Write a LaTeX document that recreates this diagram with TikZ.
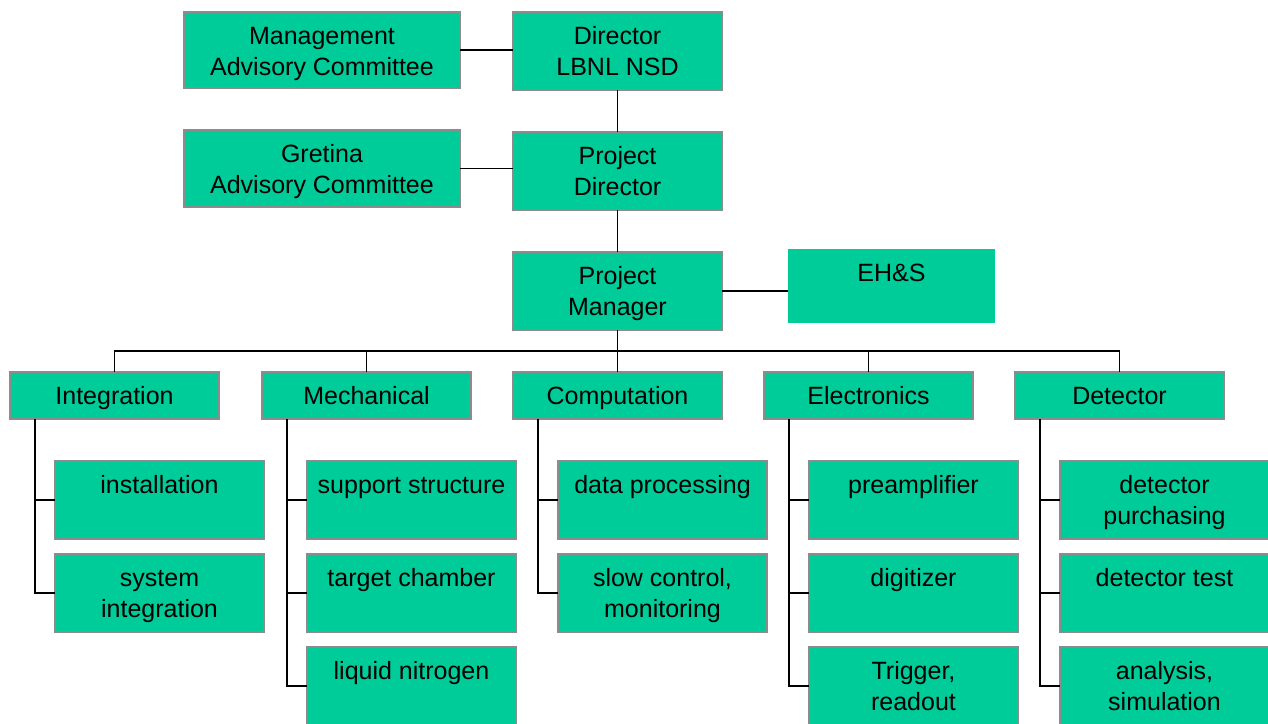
\documentclass[tikz,border=0pt]{standalone}
\usepackage{fontspec}
\setmainfont{Liberation Sans}
\definecolor{boxfill}{RGB}{0,204,153}
\definecolor{boxline}{RGB}{140,140,140}
\begin{document}
\begin{tikzpicture}[x=1pt,y=-1pt,
  box/.style={draw=boxline, line width=1.8pt, fill=boxfill, minimum width=#1, minimum height=78pt, anchor=north west, inner sep=0pt, outer sep=0pt},
  box/.default=209pt,
  plain/.style={fill=boxfill, minimum width=207pt, minimum height=74pt, anchor=north west, inner sep=0pt, outer sep=0pt},
  lvl/.style={draw=boxline, line width=1.8pt, fill=boxfill, minimum width=209pt, minimum height=47pt, anchor=north west, inner sep=0pt, outer sep=0pt},
  txt/.style={anchor=base, align=center, inner sep=0pt, font=\fontsize{25}{31}\selectfont},
  conn/.style={draw=black, line width=1.8pt}]
\useasboundingbox (0,0) rectangle (1268,723);
\begin{scope}
\clip (0,0) rectangle (1268,723);
% top
\node[box=276pt, minimum height=76pt] (mac) at (184,12) {};
\node[txt] (macT) at ([yshift=-63pt]mac.north) {Management\\Advisory Committee};
\node[box] (dir) at (513,12) {};
\node[txt] (dirT) at ([yshift=-63pt]dir.north) {Director\\LBNL NSD};
\node[box=276pt, minimum height=77pt] (gac) at (184,130) {};
\node[txt] (gacT) at ([yshift=-63pt]gac.north) {Gretina\\Advisory Committee};
\node[box] (pdir) at (513,132) {};
\node[txt] (pdirT) at ([yshift=-63pt]pdir.north) {Project\\Director};
\node[box] (pm) at (513,252) {};
\node[txt] (pmT) at ([yshift=-63pt]pm.north) {Project\\Manager};
\node[plain] (ehs) at (788,249) {};
\node[txt] (ehsT) at ([yshift=-32pt]ehs.north) {EH\&S};
\draw[conn] (mac.east) -- (dir.west |- mac.east);
\draw[conn] (gac.east) -- (pdir.west |- gac.east);
\draw[conn] (dir.south) -- (pdir.north);
\draw[conn] (pdir.south) -- (pm.north);
\draw[conn] (pm.east) -- (pm.east -| ehs.west);
\coordinate (bar) at (617,351);
\draw[conn] (pm.south) -- (pm.south |- bar);
% levels
\foreach \n/\x/\t in {I/10/Integration,M/262/Mechanical,C/513/Computation,E/764/Electronics,D/1015/Detector}{
  \node[lvl] (\n) at (\x,372) {};
  \node[txt] (\n T) at ([yshift=-32pt]\n.north) {\t};
  \coordinate (\n v) at (\x+25,419);
}
\draw[conn] (I.north) -- (I.north |- bar) -- (D.north |- bar) -- (D.north);
\draw[conn] (M.north) -- (M.north |- bar);
\draw[conn] (C.north) -- (C.north |- bar);
\draw[conn] (E.north) -- (E.north |- bar);
% sub boxes
\foreach \n/\x/\j/\s/\t in {
  I/55/1/32/installation, I/55/2/63/{system\\integration},
  M/307/1/32/support structure, M/307/2/32/target chamber, M/307/3/32/liquid nitrogen,
  C/558/1/32/data processing, C/558/2/63/{slow control,\\monitoring},
  E/809/1/32/preamplifier, E/809/2/32/digitizer, E/809/3/63/{Trigger,\\readout},
  D/1060/1/63/{detector\\purchasing}, D/1060/2/32/detector test, D/1060/3/63/{analysis,\\simulation}}{
  \node[box] (\n\j) at (\x,461+93*\j-93) {};
  \node[txt] (\n\j T) at ([yshift=-\s pt]\n\j.north) {\t};
  \draw[conn] (\n v) |- (\n\j.west);
}
\end{scope}
\end{tikzpicture}
\end{document}
